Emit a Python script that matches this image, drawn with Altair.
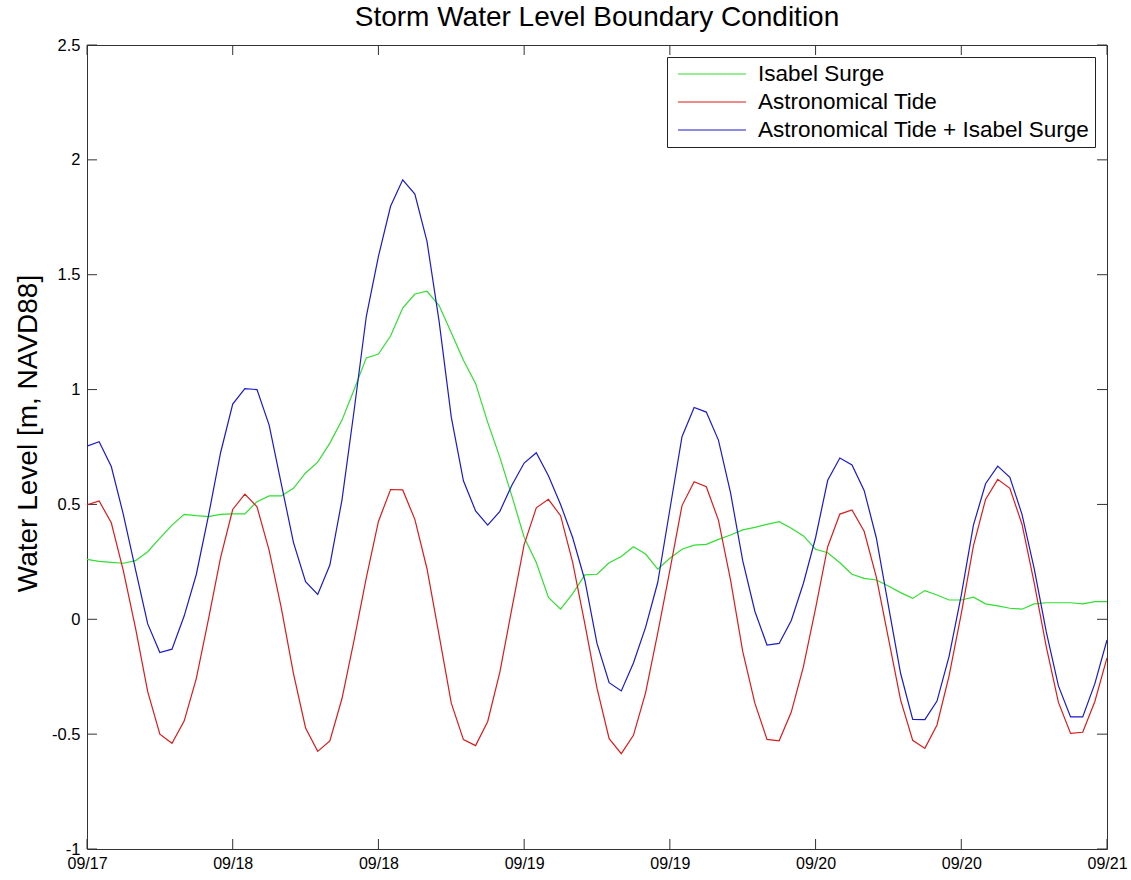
import altair as alt
import pandas as pd

# Hourly samples: hour 0 = 09/17 12:00, hour 84 = 09/21 00:00
hours = list(range(85))

isabel_surge = [
    0.261, 0.252, 0.248, 0.244, 0.255, 0.294, 0.353, 0.410, 0.457, 0.451,
    0.447, 0.457, 0.459, 0.459, 0.512, 0.537, 0.537, 0.570, 0.637, 0.684,
    0.767, 0.867, 1.000, 1.138, 1.155, 1.233, 1.355, 1.416, 1.428, 1.366,
    1.247, 1.128, 1.027, 0.857, 0.705, 0.535, 0.357, 0.247, 0.095, 0.044,
    0.112, 0.193, 0.196, 0.246, 0.273, 0.316, 0.284, 0.218, 0.266, 0.305,
    0.323, 0.326, 0.348, 0.367, 0.389, 0.400, 0.413, 0.425, 0.396, 0.363,
    0.305, 0.290, 0.246, 0.196, 0.178, 0.171, 0.145, 0.116, 0.091, 0.125,
    0.106, 0.084, 0.084, 0.096, 0.067, 0.058, 0.048, 0.044, 0.067, 0.072,
    0.072, 0.072, 0.067, 0.077, 0.077,
]

astronomical_tide = [
    0.498, 0.515, 0.420, 0.210, -0.040, -0.315, -0.500, -0.540, -0.443, -0.258,
    0.000, 0.268, 0.478, 0.545, 0.490, 0.300, 0.050, -0.235, -0.473, -0.575,
    -0.530, -0.345, -0.090, 0.180, 0.426, 0.565, 0.563, 0.435, 0.220, -0.070,
    -0.365, -0.524, -0.550, -0.445, -0.230, 0.050, 0.325, 0.485, 0.522, 0.451,
    0.247, -0.020, -0.300, -0.520, -0.585, -0.505, -0.320, -0.060, 0.213, 0.495,
    0.599, 0.577, 0.432, 0.170, -0.140, -0.365, -0.523, -0.529, -0.404, -0.206,
    0.048, 0.316, 0.458, 0.476, 0.383, 0.185, -0.083, -0.351, -0.527, -0.562,
    -0.460, -0.245, 0.025, 0.320, 0.522, 0.609, 0.570, 0.414, 0.160, -0.120,
    -0.362, -0.497, -0.492, -0.358, -0.168,
]

tide_plus_surge = [
    0.754, 0.773, 0.665, 0.455, 0.215, -0.020, -0.145, -0.130, 0.014, 0.195,
    0.450, 0.725, 0.937, 1.004, 1.000, 0.845, 0.590, 0.335, 0.164, 0.108,
    0.236, 0.520, 0.910, 1.318, 1.580, 1.798, 1.913, 1.851, 1.645, 1.296,
    0.880, 0.603, 0.472, 0.410, 0.470, 0.585, 0.680, 0.725, 0.625, 0.500,
    0.355, 0.170, -0.105, -0.276, -0.312, -0.190, -0.035, 0.160, 0.478, 0.795,
    0.922, 0.902, 0.780, 0.550, 0.255, 0.035, -0.112, -0.105, -0.005, 0.157,
    0.355, 0.605, 0.702, 0.672, 0.561, 0.355, 0.058, -0.235, -0.436, -0.437,
    -0.356, -0.160, 0.105, 0.410, 0.590, 0.667, 0.618, 0.457, 0.222, -0.055,
    -0.290, -0.425, -0.425, -0.280, -0.090,
]

series_names = ["Isabel Surge", "Astronomical Tide", "Astronomical Tide + Isabel Surge"]
series_colors = ["#2fe02f", "#dd1a1a", "#1a1acc"]

x_tick_hours = [0, 12, 24, 36, 48, 60, 72, 84]
x_tick_labels = ["09/17", "09/18", "09/18", "09/19", "09/19", "09/20", "09/20", "09/21"]
y_tick_values = [-1, -0.5, 0, 0.5, 1, 1.5, 2, 2.5]

FONT = "Liberation Sans"
W, H = 1020, 804

frames = []
for name, vals in zip(series_names, [isabel_surge, astronomical_tide, tide_plus_surge]):
    frames.append(pd.DataFrame({"hour": hours, "level": vals, "series": name}))

label_js = "[" + ",".join("'" + s + "'" for s in x_tick_labels) + "]"

x_scale = alt.Scale(domain=[0, 84], nice=False, zero=False)
y_scale = alt.Scale(domain=[-1, 2.5], nice=False, zero=False)

x_axis = alt.Axis(
    values=x_tick_hours, labelExpr=label_js + "[round(datum.value / 12)]",
    title=None, ticks=False, domain=False, grid=False,
    labelFontSize=16, labelFont=FONT, labelColor="#000", labelPadding=6,
    labelFlush=False, labelOverlap=False, labelBound=False,
)
y_axis = alt.Axis(
    values=y_tick_values, labelExpr="'' + datum.value",
    title="Water Level [m, NAVD88]", titleFontSize=28, titleFont=FONT,
    titleFontWeight="normal", titleColor="#000",
    titleX=-45, titleY=388, titleAngle=270, titleAlign="center", titleBaseline="bottom",
    ticks=False, domain=False, grid=False,
    labelFontSize=16.5, labelFont=FONT, labelColor="#000", labelPadding=7,
    labelFlush=False, labelOverlap=False, labelBound=False,
)

color_scale = alt.Scale(domain=series_names, range=series_colors)
legend = alt.Legend(
    title=None, orient="none", legendX=580, legendY=12,
    fillColor="#ffffff", strokeColor="#222",
    padding=5, rowPadding=4, labelFontSize=22.5, labelFont=FONT, labelColor="#000",
    symbolType="M-3,0H3", symbolSize=514, symbolStrokeWidth=1.2,
    symbolOffset=28, labelOffset=34, labelLimit=500,
)

X = alt.X("hour:Q", scale=x_scale, axis=x_axis)
Y = alt.Y("level:Q", scale=y_scale, axis=y_axis)

layers = []
for i, df in enumerate(frames):
    layers.append(
        alt.Chart(df).mark_line(strokeWidth=1.2, clip=True).encode(
            x=X, y=Y,
            color=alt.Color("series:N", scale=color_scale, legend=legend if i == 0 else None),
        )
    )

xt = pd.DataFrame({"hour": x_tick_hours})
yt = pd.DataFrame({"level": y_tick_values})
tick_style = dict(color="#333", strokeWidth=1)
ticks = [
    alt.Chart(xt).mark_rule(**tick_style).encode(x=X, y=alt.value(H), y2=alt.value(H - 10)),
    alt.Chart(xt).mark_rule(**tick_style).encode(x=X, y=alt.value(0), y2=alt.value(10)),
    alt.Chart(yt).mark_rule(**tick_style).encode(y=Y, x=alt.value(0), x2=alt.value(10)),
    alt.Chart(yt).mark_rule(**tick_style).encode(y=Y, x=alt.value(W), x2=alt.value(W - 10)),
]

chart = alt.layer(*ticks, *layers).properties(
    width=W, height=H,
    title=alt.TitleParams(
        "Storm Water Level Boundary Condition", fontSize=28, font=FONT,
        fontWeight="normal", color="#000", anchor="middle", baseline="bottom",
        offset=10, frame="group", dy=33,
    ),
    padding={"left": 87, "top": 45, "right": 24, "bottom": 31},
    autosize=alt.AutoSizeParams(type="none"),
    background="white",
).configure_view(stroke="#333", strokeWidth=1).configure_legend(strokeWidth=1, cornerRadius=0)

chart.save("out.html", embed_options={"renderer": "svg", "actions": False})
